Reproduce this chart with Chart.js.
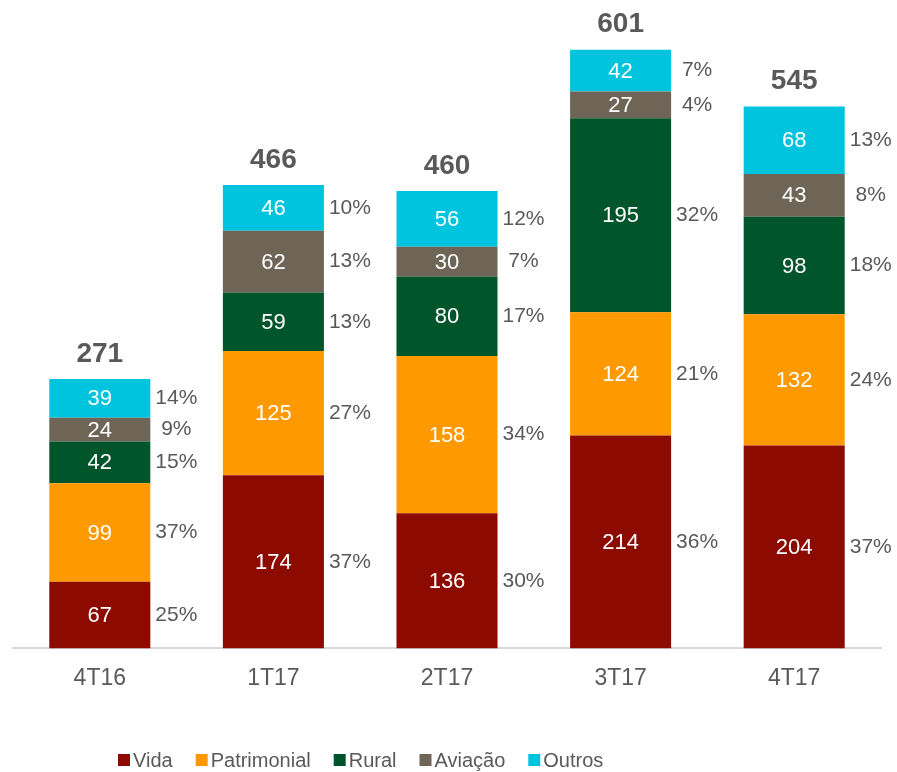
<!DOCTYPE html>
<html>
<head>
<meta charset="utf-8">
<script src="https://cdn.jsdelivr.net/npm/chart.js@4/dist/chart.umd.min.js"></script>
<style>
  html, body { margin: 0; padding: 0; background: #ffffff; }
  #wrap { width: 897px; height: 772px; }
</style>
</head>
<body>
<div id="wrap"><canvas id="chart" width="897" height="772"></canvas></div>
<script>
const categories = ["4T16", "1T17", "2T17", "3T17", "4T17"];

const vida = [67, 174, 136, 214, 204];
const patrimonial = [99, 125, 158, 124, 132];
const rural = [42, 59, 80, 195, 98];
const aviacao = [24, 62, 30, 27, 43];
const outros = [39, 46, 56, 42, 68];

const vidaPct = ["25%", "37%", "30%", "36%", "37%"];
const patrimonialPct = ["37%", "27%", "34%", "21%", "24%"];
const ruralPct = ["15%", "13%", "17%", "32%", "18%"];
const aviacaoPct = ["9%", "13%", "7%", "4%", "8%"];
const outrosPct = ["14%", "10%", "12%", "7%", "13%"];

const totals = [271, 466, 460, 601, 545];

const FONT = "'Liberation Sans', Arial, sans-serif";
const GRAY = "#595959";

const series = [
  { label: "Vida", data: vida, pct: vidaPct, color: "#8C0A00" },
  { label: "Patrimonial", data: patrimonial, pct: patrimonialPct, color: "#FF9900" },
  { label: "Rural", data: rural, pct: ruralPct, color: "#00552A" },
  { label: "Aviação", data: aviacao, pct: aviacaoPct, color: "#6E6557" },
  { label: "Outros", data: outros, pct: outrosPct, color: "#00C3DD" },
];

// values inside, percentages at the side, totals on top
const labelsPlugin = {
  id: "barLabels",
  afterDatasetsDraw(chart) {
    const ctx = chart.ctx;
    ctx.save();
    ctx.textBaseline = "middle";
    ctx.textAlign = "center";
    series.forEach((s, i) => {
      const meta = chart.getDatasetMeta(i);
      meta.data.forEach((bar, j) => {
        const mid = (bar.y + bar.base) / 2;
        ctx.fillStyle = "#ffffff";
        ctx.font = "22px " + FONT;
        ctx.fillText(String(s.data[j]), bar.x, mid + 1);
        ctx.fillStyle = GRAY;
        ctx.font = "21px " + FONT;
        ctx.fillText(s.pct[j], bar.x + bar.width / 2 + 26, mid);
      });
    });
    const top = chart.getDatasetMeta(series.length - 1);
    top.data.forEach((bar, j) => {
      ctx.fillStyle = GRAY;
      ctx.font = "bold 28px " + FONT;
      ctx.fillText(String(totals[j]), bar.x, bar.y - 25);
    });
    ctx.restore();
  },
};

// legend drawn by hand so it can sit left of centre like the original
const legendPlugin = {
  id: "customLegend",
  afterDraw(chart) {
    const ctx = chart.ctx;
    ctx.save();
    ctx.font = "20px " + FONT;
    ctx.textBaseline = "middle";
    ctx.textAlign = "left";
    let x = 118;
    const y = 760;
    chart.data.datasets.forEach((ds) => {
      ctx.fillStyle = ds.backgroundColor;
      ctx.fillRect(x, y - 6, 12, 12);
      ctx.fillStyle = GRAY;
      ctx.fillText(ds.label, x + 15, y + 1);
      x += 15 + ctx.measureText(ds.label).width + 23;
    });
    ctx.restore();
  },
};

new Chart(document.getElementById("chart"), {
  type: "bar",
  data: {
    labels: categories,
    datasets: series.map((s) => ({
      label: s.label,
      data: s.data,
      backgroundColor: s.color,
      borderWidth: 0,
      categoryPercentage: 1,
      barPercentage: 0.582,
    })),
  },
  options: {
    responsive: false,
    animation: false,
    layout: { padding: { top: 2, left: 13, right: 16, bottom: 64 } },
    plugins: {
      legend: { display: false },
      tooltip: { enabled: false },
    },
    scales: {
      x: {
        stacked: true,
        grid: { display: false, drawTicks: false },
        border: { display: true, color: "#D9D9D9", width: 2 },
        ticks: { color: GRAY, font: { family: FONT, size: 23 }, padding: 16 },
      },
      y: {
        stacked: true,
        display: false,
        min: 0,
        max: 650,
      },
    },
  },
  plugins: [labelsPlugin, legendPlugin],
});
</script>
</body>
</html>
